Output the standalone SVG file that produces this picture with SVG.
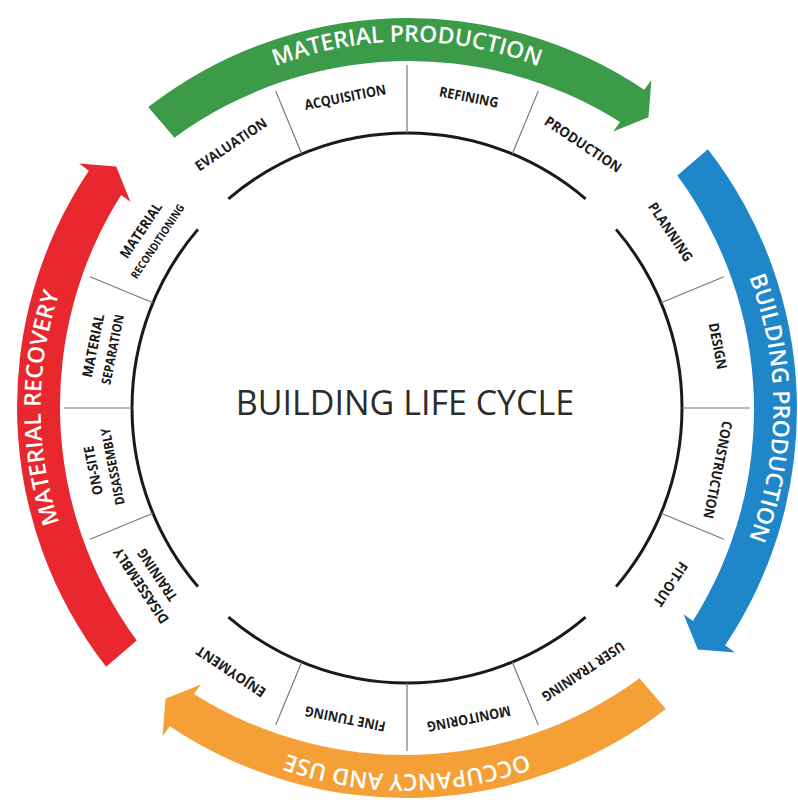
<svg xmlns="http://www.w3.org/2000/svg" width="798" height="802" viewBox="0 0 798 802">
<style>
.lbl{font-family:"Open Sans","Liberation Sans",sans-serif;font-weight:700;font-size:14px;fill:#1a1a1a;text-anchor:middle}
.bt{font-family:"Open Sans","Liberation Sans",sans-serif;font-weight:600;font-size:23px;fill:#ffffff}
.title{font-family:"Open Sans","Liberation Sans",sans-serif;font-size:34px;fill:#2b2b2b;text-anchor:middle}
.arc{fill:none;stroke:#1a1a1a;stroke-width:3}
.tick{stroke:#777777;stroke-width:1.2}
</style>
<defs>
<path id="band" d="M148.2 107.1 A424 424 0 0 1 644.2 89.8 L651.4 80.1 L648.5 117.2 L613.2 131.4 L620.1 122.1 A396 396 0 0 0 174.5 137.7 Z"/>
<path id="tp" d="M49.8 344.9 A362 362 0 0 1 764.2 344.9" fill="none"/>
<path id="ring" d="M228.4 198.9 A275 275 0 0 1 585.6 198.9"/>
<line id="tk" x1="407" y1="133" x2="407" y2="65"/>
</defs>
<rect width="798" height="802" fill="#ffffff"/>

<g id="band-material-production">
<use href="#band" fill="#3b9b48"/>
<text class="bt"><textPath href="#tp" startOffset="50%" text-anchor="middle">MATERIAL PRODUCTION</textPath></text>
</g>
<g id="band-building-production" transform="rotate(90 407 408)">
<use href="#band" fill="#1f87c9"/>
<text class="bt"><textPath href="#tp" startOffset="50%" text-anchor="middle">BUILDING PRODUCTION</textPath></text>
</g>
<g id="band-occupancy" transform="rotate(180 407 408)">
<use href="#band" fill="#f4a037"/>
<text class="bt"><textPath href="#tp" startOffset="50%" text-anchor="middle">OCCUPANCY AND USE</textPath></text>
</g>
<g id="band-material-recovery" transform="rotate(270 407 408)">
<use href="#band" fill="#e8282e"/>
<text class="bt"><textPath href="#tp" startOffset="50%" text-anchor="middle">MATERIAL RECOVERY</textPath></text>
</g>

<g id="connectors">
<use href="#ring" class="arc"/>
<use href="#ring" class="arc" transform="rotate(90 407 408)"/>
<use href="#ring" class="arc" transform="rotate(180 407 408)"/>
<use href="#ring" class="arc" transform="rotate(270 407 408)"/>
<use href="#tk" class="tick" transform="rotate(-22.5 407 408)"/>
<use href="#tk" class="tick"/>
<use href="#tk" class="tick" transform="rotate(22.5 407 408)"/>
<use href="#tk" class="tick" transform="rotate(67.5 407 408)"/>
<use href="#tk" class="tick" transform="rotate(90 407 408)"/>
<use href="#tk" class="tick" transform="rotate(112.5 407 408)"/>
<use href="#tk" class="tick" transform="rotate(157.5 407 408)"/>
<use href="#tk" class="tick" transform="rotate(180 407 408)"/>
<use href="#tk" class="tick" transform="rotate(202.5 407 408)"/>
<use href="#tk" class="tick" transform="rotate(247.5 407 408)"/>
<use href="#tk" class="tick" transform="rotate(270 407 408)"/>
<use href="#tk" class="tick" transform="rotate(292.5 407 408)"/>
</g>

<g id="title"><text class="title" x="405" y="415">BUILDING LIFE CYCLE</text></g>

<g id="evaluation"><text class="lbl" x="407" y="96" textLength="83" lengthAdjust="spacingAndGlyphs" transform="rotate(-33.75 407 408)">EVALUATION</text></g>
<g id="acquisition"><text class="lbl" x="407" y="96" textLength="83" lengthAdjust="spacingAndGlyphs" transform="rotate(-11.25 407 408)">ACQUISITION</text></g>
<g id="refining"><text class="lbl" x="407" y="96" textLength="60" lengthAdjust="spacingAndGlyphs" transform="rotate(11.25 407 408)">REFINING</text></g>
<g id="production"><text class="lbl" x="407" y="96" textLength="89" lengthAdjust="spacingAndGlyphs" transform="rotate(33.75 407 408)">PRODUCTION</text></g>
<g id="planning"><text class="lbl" x="407" y="96" textLength="68" lengthAdjust="spacingAndGlyphs" transform="rotate(56.25 407 408)">PLANNING</text></g>
<g id="design"><text class="lbl" x="407" y="96" textLength="47" lengthAdjust="spacingAndGlyphs" transform="rotate(78.75 407 408)">DESIGN</text></g>
<g id="construction"><text class="lbl" x="407" y="96" textLength="99" lengthAdjust="spacingAndGlyphs" transform="rotate(101.25 407 408)">CONSTRUCTION</text></g>
<g id="fit-out"><text class="lbl" x="407" y="96" textLength="50" lengthAdjust="spacingAndGlyphs" transform="rotate(123.75 407 408)">FIT-OUT</text></g>
<g id="user-training"><text class="lbl" x="407" y="96" textLength="96" lengthAdjust="spacingAndGlyphs" transform="rotate(146.25 407 408)">USER TRAINING</text></g>
<g id="monitoring"><text class="lbl" x="407" y="96" textLength="85" lengthAdjust="spacingAndGlyphs" transform="rotate(168.75 407 408)">MONITORING</text></g>
<g id="fine-tuning"><text class="lbl" x="407" y="96" textLength="82" lengthAdjust="spacingAndGlyphs" transform="rotate(191.25 407 408)">FINE TUNING</text></g>
<g id="enjoyment"><text class="lbl" x="407" y="96" textLength="80" lengthAdjust="spacingAndGlyphs" transform="rotate(213.75 407 408)">ENJOYMENT</text></g>
<g id="disassembly-training" transform="rotate(236.25 407 408)">
<text class="lbl" x="407" y="93" textLength="88" lengthAdjust="spacingAndGlyphs">DISASSEMBLY</text>
<text class="lbl" x="407" y="112.5" textLength="60" lengthAdjust="spacingAndGlyphs">TRAINING</text>
</g>
<g id="on-site-disassembly" transform="rotate(258.75 407 408)">
<text class="lbl" x="407" y="93" textLength="50" lengthAdjust="spacingAndGlyphs">ON-SITE</text>
<text class="lbl" x="407" y="112.5" textLength="78" lengthAdjust="spacingAndGlyphs" style="font-size:13px">DISASSEMBLY</text>
</g>
<g id="material-separation" transform="rotate(281.25 407 408)">
<text class="lbl" x="407" y="93" textLength="64" lengthAdjust="spacingAndGlyphs">MATERIAL</text>
<text class="lbl" x="407" y="112.5" textLength="71" lengthAdjust="spacingAndGlyphs" style="font-size:13px">SEPARATION</text>
</g>
<g id="material-reconditioning" transform="rotate(303.75 407 408)">
<text class="lbl" x="407" y="93" textLength="64" lengthAdjust="spacingAndGlyphs">MATERIAL</text>
<text class="lbl" x="407" y="112" textLength="87" lengthAdjust="spacingAndGlyphs" style="font-size:11px">RECONDITIONING</text>
</g>
</svg>
